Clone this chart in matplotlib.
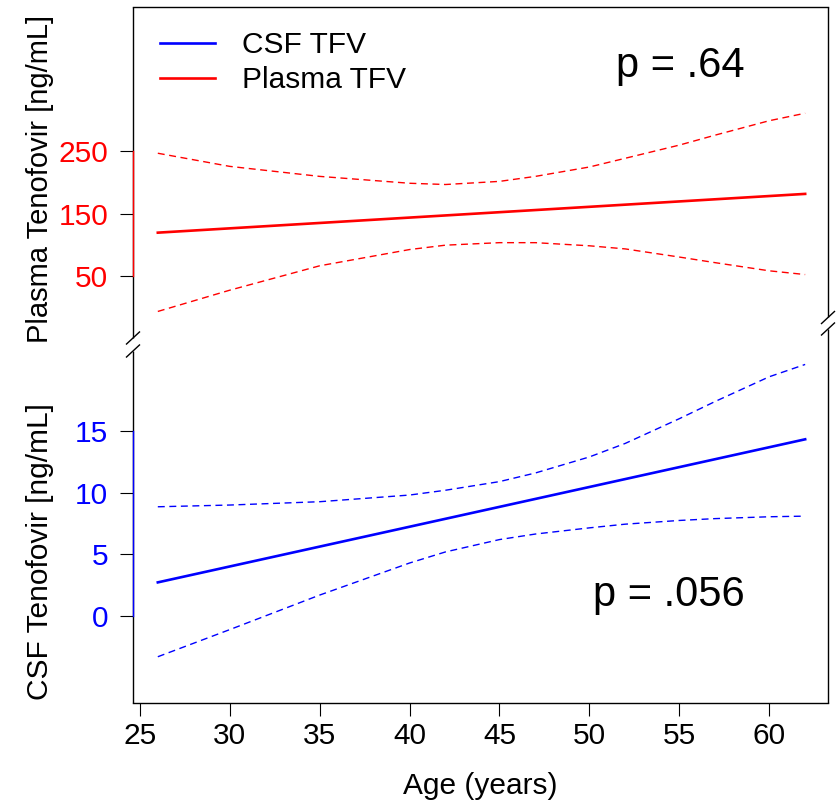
import matplotlib
matplotlib.use("Agg")
import matplotlib.pyplot as plt
import matplotlib.transforms as mtransforms

plt.rcParams["font.family"] = ["Liberation Sans", "DejaVu Sans"]

# fitted lines and confidence bands
age = [26, 30, 35, 40, 42, 45, 47, 50, 52, 55, 57, 60, 62]

plasma_fit_age = [26, 62]
plasma_fit = [120, 182]
plasma_upper = [247, 226, 210, 199, 197, 202, 210, 225, 239, 260, 276, 299, 311]
plasma_lower = [-6, 28, 67, 93, 100, 104, 104, 99, 94, 81, 72, 59, 53]

csf_fit_age = [26, 62]
csf_fit = [2.73, 14.33]
csf_upper = [8.86, 9.0, 9.27, 9.81, 10.2, 10.9, 11.6, 12.9, 14.0, 16.0, 17.4, 19.4, 20.4]
csf_lower = [-3.3, -1.1, 1.7, 4.3, 5.2, 6.2, 6.65, 7.15, 7.45, 7.75, 7.9, 8.05, 8.1]

x_ticks = [25, 30, 35, 40, 45, 50, 55, 60]
csf_ticks = [0, 5, 10, 15]
plasma_ticks = [50, 150, 250]

RED = "#FF0000"
BLUE = "#0000FF"

# plasma values share the axis with csf values, shifted up above the break
PLASMA_OFFSET = 25.0
PLASMA_SCALE = 0.0507


def plasma_y(vals):
    return [PLASMA_OFFSET + v * PLASMA_SCALE for v in vals]


fig = plt.figure(figsize=(8.36, 8.05), dpi=100)
ax = fig.add_axes([133 / 836, 102 / 805, 695 / 836, 696 / 805])
ax.set_xlim(24.62, 63.27)
ax.set_ylim(-7.05, 49.38)

dash = dict(lw=1.0, dashes=(5, 3.3))
ax.plot(plasma_fit_age, plasma_y(plasma_fit), color=RED, lw=1.9)
ax.plot(age, plasma_y(plasma_upper), color=RED, **dash)
ax.plot(age, plasma_y(plasma_lower), color=RED, **dash)
ax.plot(csf_fit_age, csf_fit, color=BLUE, lw=1.9)
ax.plot(age, csf_upper, color=BLUE, **dash)
ax.plot(age, csf_lower, color=BLUE, **dash)

# ticks
ax.set_xticks(x_ticks)
ax.set_xticklabels([str(t) for t in x_ticks])
yt = csf_ticks + plasma_y(plasma_ticks)
ax.set_yticks(yt)
ax.set_yticklabels([str(t) for t in csf_ticks] + [str(t) for t in plasma_ticks])
ax.tick_params(axis="x", length=9.4, width=0.8, pad=4, labelsize=21.5)
ax.tick_params(axis="y", length=9.4, width=0.8, pad=8.5, labelsize=21.5)
for i, tick in enumerate(ax.yaxis.get_major_ticks()):
    c = BLUE if i < len(csf_ticks) else RED
    tick.tick1line.set_color(c)
    tick.label1.set_color(c)

# box with broken sides
for side in ["left", "right"]:
    ax.spines[side].set_visible(False)
for side in ["top", "bottom"]:
    ax.spines[side].set_linewidth(1.0)


def fy(py):
    return (703 - py) / 696


seg = dict(color="black", lw=1.0, transform=ax.transAxes, clip_on=False, solid_capstyle="butt")
ax.plot([0, 0], [0, fy(351)], **seg)
ax.plot([0, 0], [fy(338), 1], **seg)
ax.plot([1, 1], [0, fy(329)], **seg)
ax.plot([1, 1], [fy(317), 1], **seg)
dx, dy = 7 / 695, 6.5 / 696
for xc, py in [(0, 338), (0, 351), (1, 317.5), (1, 329)]:
    ax.plot([xc - dx, xc + dx], [fy(py) - dy, fy(py) + dy], **seg)

# coloured axis segments over the left side
blend = mtransforms.blended_transform_factory(ax.transAxes, ax.transData)
ax.plot([0, 0], plasma_y([plasma_ticks[0], plasma_ticks[-1]]), color=RED, lw=1.0,
        transform=blend, clip_on=False)
ax.plot([0, 0], [csf_ticks[0], csf_ticks[-1]], color=BLUE, lw=1.0,
        transform=blend, clip_on=False)

# labels
ax.text(0.5, fy(794), "Age (years)", transform=ax.transAxes, ha="center",
        va="baseline", fontsize=21.5)
ax.text((40 - 133) / 695, fy(179), "Plasma Tenofovir [ng/mL]", transform=ax.transAxes,
        rotation=90, ha="center", va="center", fontsize=21)
ax.text((40 - 133) / 695, fy(552), "CSF Tenofovir [ng/mL]", transform=ax.transAxes,
        rotation=90, ha="center", va="center", fontsize=21.5)

ax.text((745 - 133) / 695, fy(77), "p = .64", transform=ax.transAxes, ha="right",
        va="baseline", fontsize=30)
ax.text((745 - 133) / 695, fy(606), "p = .056", transform=ax.transAxes, ha="right",
        va="baseline", fontsize=30)

h1, = ax.plot([], [], color=BLUE, lw=1.9)
h2, = ax.plot([], [], color=RED, lw=1.9)
ax.legend([h1, h2], ["CSF TFV", "Plasma TFV"], loc="upper left",
          bbox_to_anchor=((168 - 133) / 695 - 0.012, fy(31)), frameon=False,
          fontsize=21.5, handlelength=1.85, handletextpad=0.9, labelspacing=0.25,
          borderaxespad=0, borderpad=0)

fig.savefig("out.png", dpi=100)
